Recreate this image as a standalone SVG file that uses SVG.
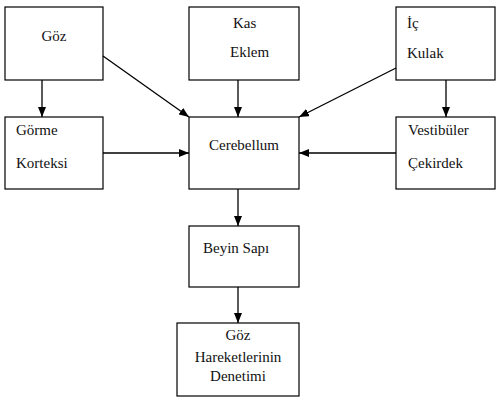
<svg xmlns="http://www.w3.org/2000/svg" width="497" height="408" viewBox="0 0 497 408">
<defs>
<marker id="ah" markerWidth="10" markerHeight="8" refX="10" refY="4" orient="auto" markerUnits="userSpaceOnUse">
<path d="M0,0 L10,4 L0,8 Z" fill="#000"/>
</marker>
<style>
.box{fill:#fff;stroke:#000;stroke-width:1.2}
text{font-family:'Liberation Serif','DejaVu Serif',serif;font-size:15px;fill:#111}
.c{text-anchor:middle}
.ln{stroke:#000;stroke-width:1.3;fill:none;marker-end:url(#ah)}
</style>
</defs>
<rect width="497" height="408" fill="#fff"/>
<g id="goz"><rect class="box" x="5" y="7" width="98" height="73"/><text class="c" x="54" y="41">Göz</text></g>
<g id="kas"><rect class="box" x="189" y="7" width="110" height="73"/><text x="233" y="28">Kas</text><text x="230" y="57">Eklem</text></g>
<g id="ic"><rect class="box" x="396" y="7" width="99" height="73"/><text x="407" y="28">İç</text><text x="407" y="58">Kulak</text></g>
<g id="gorme"><rect class="box" x="5" y="117" width="98" height="72"/><text x="16" y="135">Görme</text><text x="16" y="168">Korteksi</text></g>
<g id="cerebellum"><rect class="box" x="189" y="117" width="110" height="72"/><text x="209" y="150">Cerebellum</text></g>
<g id="vestibuler"><rect class="box" x="396" y="117" width="99" height="72"/><text x="408" y="135">Vestibüler</text><text x="408" y="168">Çekirdek</text></g>
<g id="beyin"><rect class="box" x="189" y="226" width="110" height="61"/><text x="203" y="253">Beyin Sapı</text></g>
<g id="denetim"><rect class="box" x="177" y="323" width="122" height="73"/><text class="c" x="238" y="340">Göz</text><text class="c" x="238" y="362">Hareketlerinin</text><text class="c" x="238" y="381">Denetimi</text></g>
<g id="connectors">
<line class="ln" x1="42" y1="80" x2="42" y2="117"/>
<line class="ln" x1="103" y1="56" x2="189" y2="117"/>
<line class="ln" x1="238" y1="80" x2="238" y2="117"/>
<line class="ln" x1="396" y1="68" x2="299" y2="117"/>
<line class="ln" x1="446" y1="80" x2="446" y2="117"/>
<line class="ln" x1="103" y1="153" x2="189" y2="153"/>
<line class="ln" x1="396" y1="153" x2="299" y2="153"/>
<line class="ln" x1="238" y1="189" x2="238" y2="226"/>
<line class="ln" x1="238" y1="287" x2="238" y2="323"/>
</g>
</svg>
